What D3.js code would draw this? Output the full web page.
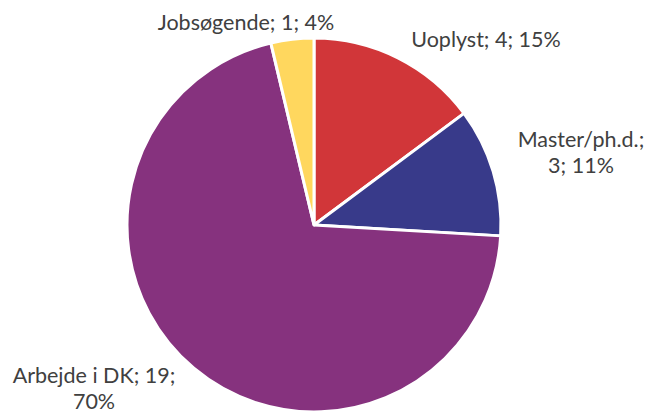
<!DOCTYPE html>
<html>
<head>
<meta charset="utf-8">
<script src="https://cdn.jsdelivr.net/npm/d3@7"></script>
<style>
    html, body { margin: 0; padding: 0; background: #ffffff; }
    #chart { width: 649px; height: 414px; }
</style>
</head>
<body>
<div id="chart"></div>
<script>
// data
const categories = ["Uoplyst", "Master/ph.d.", "Arbejde i DK", "Jobsøgende"];
const counts = [4, 3, 19, 1];
const percents = ["15%", "11%", "70%", "4%"];
const labelLines = [
    ["Uoplyst; 4; 15%"],
    ["Master/ph.d.;", "3; 11%"],
    ["Arbejde i DK; 19;", "70%"],
    ["Jobsøgende; 1; 4%"]
];

const width = 649,
    height = 414;

const cx = 314, cy = 225;
const radius = 187;

// label anchor offsets from the pie centre (centre x, first baseline)
const labelOffsets = [
    [172, -178],
    [267, -78],
    [-220, 158],
    [-68, -195]
];

const color = d3.scaleOrdinal()
    .domain(categories)
    .range(["#D13639", "#383A8A", "#86327E", "#FFD75E"]);

const svg = d3.select("#chart")
    .append("svg")
    .attr("width", width)
    .attr("height", height);

const g = svg.append("g")
    .attr("transform", `translate(${cx}, ${cy})`);

const pie = d3.pie()
    .sort(null)
    .value(function (d) { return d.value; });

const data_ready = pie(categories.map(function (c, i) {
    return { key: c, value: counts[i], i: i };
}));

const arc = d3.arc()
    .innerRadius(0)
    .outerRadius(radius);

g.selectAll("path")
    .data(data_ready)
    .join("path")
    .attr("d", arc)
    .attr("fill", function (d) { return color(d.data.key); })
    .attr("stroke", "#ffffff")
    .attr("stroke-width", 3)
    .attr("stroke-linejoin", "round");

// labels
const lbl = g.selectAll("text.lbl")
    .data(data_ready)
    .join("text")
    .attr("class", "lbl")
    .attr("text-anchor", "middle")
    .attr("font-family", "Lato, 'Open Sans', sans-serif")
    .attr("font-size", "21.5px")
    .attr("fill", "#404040")
    .attr("transform", function (d) {
        const o = labelOffsets[d.data.i];
        return `translate(${o[0]}, ${o[1]})`;
    });

lbl.selectAll("tspan")
    .data(function (d) { return labelLines[d.data.i]; })
    .join("tspan")
    .attr("x", 0)
    .attr("dy", function (d, i) { return i === 0 ? 0 : 26; })
    .text(function (d) { return d; });
</script>
</body>
</html>
